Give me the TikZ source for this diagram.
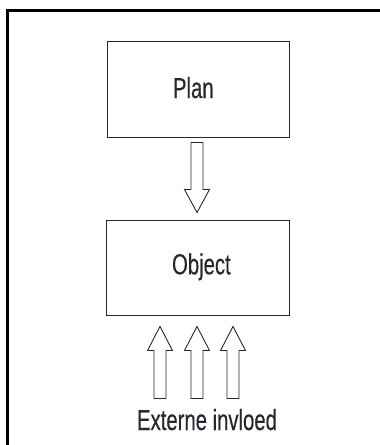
\documentclass[tikz,border=0pt]{standalone}
\usepackage{fontspec}
\setmainfont[FakeStretch=0.70,FakeBold=0.3]{Liberation Sans}
\usetikzlibrary{calc}
\definecolor{ink}{HTML}{2A2630}
\tikzset{
  boxnode/.style={draw=ink, line width=1pt, minimum width=182pt, minimum height=96pt, inner sep=0pt},
  arrowline/.style={draw=ink, line width=0.9pt, line join=miter, fill=white},
  labeltext/.style={text=ink, font=\fontsize{29}{34}\selectfont, inner sep=0pt, anchor=base},
  downarrow/.pic={\path[arrowline] (0,0) -- (12.5,-23) -- (6,-23) -- (6,-70) -- (-6,-70) -- (-6,-23) -- (-12.5,-23) -- cycle;},
  uparrow/.pic={\path[arrowline] (0,0) -- (12.5,24) -- (6,24) -- (6,72) -- (-6,72) -- (-6,24) -- (-12.5,24) -- cycle;},
}
\begin{document}
\begin{tikzpicture}[x=1pt,y=-1pt]
\useasboundingbox[fill=white] (0,0) rectangle (380,445);
\draw[line width=3pt, black] (380,10.5) -- (7.5,10.5) -- (7.5,445);
\node[boxnode] (plan) at (198,89) {};
\node[boxnode, minimum width=183pt, minimum height=95pt] (object) at (197.5,267.5) {};
\node[labeltext] (plantext) at ($(plan.center)+(-4.7,9)$) {Plan};
\node[labeltext] (objecttext) at ($(object.center)+(3.9,6.8)$) {Object};
\node[labeltext] (ext) at (207,430) {Externe invloed};
\coordinate (dtip) at ($(object.north)+(-0.5,-7)$);
\coordinate (u1) at ($(object.south)+(-37.5,11)$);
\coordinate (u2) at ($(object.south)+(-0.5,11)$);
\coordinate (u3) at ($(object.south)+(35.5,11)$);
\pic at (dtip) {downarrow};
\pic at (u1) {uparrow};
\pic at (u2) {uparrow};
\pic at (u3) {uparrow};
\end{tikzpicture}
\end{document}
